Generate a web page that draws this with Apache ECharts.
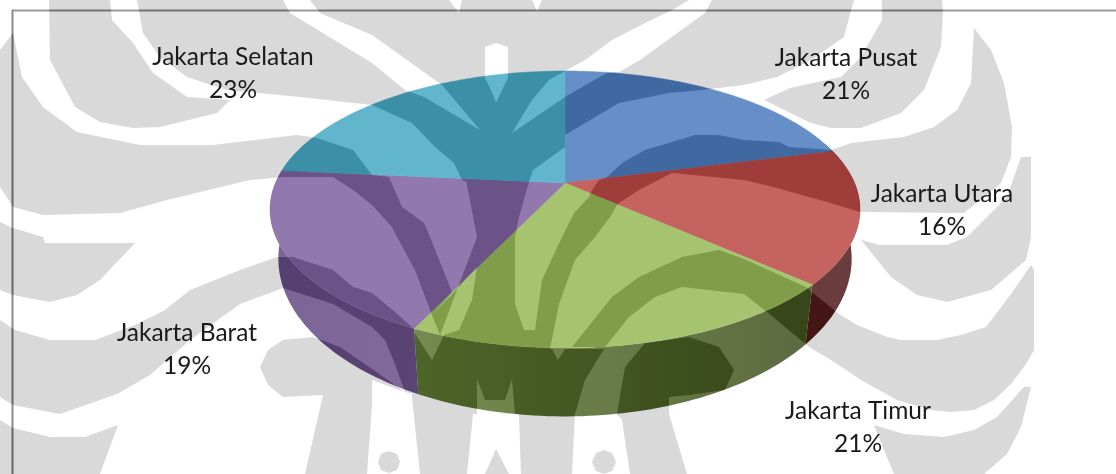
<!DOCTYPE html>
<html><head><meta charset="utf-8">
<style>html,body{margin:0;padding:0;background:#fff}#c{width:1116px;height:474px}</style>
<script src="https://cdn.jsdelivr.net/npm/echarts@6/dist/echarts.min.js"></script>
</head><body><div id="c"></div>
<script>
const categories = ['Jakarta Pusat','Jakarta Utara','Jakarta Timur','Jakarta Barat','Jakarta Selatan'];
const seriesValues = [21, 15.6, 20.5, 19.41, 23.49];
const percentLabels = ['21%','16%','21%','19%','23%'];

const topColors = ['#658fc6','#c4635f','#a6c36f','#9178ad','#61b5cd'];
const wallLeft  = ['#3f5f8a','#6a3c3c','#758a4e','#7a6596','#3f8a9d'];
const wallRight = ['#3f5f8a','#6a3c3c','#5c6b40','#7f6a9a','#3f8a9d'];
const labelCenters = [[233,57],[846,58],[942,194],[858,411],[187,333]];
const labelOrder = [1,2,3,4,0];

// Perspective projection of the pie disc onto the screen
const cx=565, cy=183, A=289.5, B=133.4, C=0.191;
function proj(t){const u=Math.sin(t),v=-Math.cos(t),d=1-C*v;return [cx+A*u/d, cy+B*v/d];}
function low(p){return [cx+(p[0]-cx)*0.972, 347+(p[1]-287)*1.14];}
const total=seriesValues.reduce((a,b)=>a+b,0);
function range(i){let s=0;for(let k=0;k<i;k++)s+=seriesValues[k];
  return [s/total*2*Math.PI,(s+seriesValues[i])/total*2*Math.PI];}
function arc(a,b){const n=Math.max(2,Math.ceil(Math.abs(b-a)/0.02)),o=[];
  for(let k=0;k<=n;k++)o.push(proj(a+(b-a)*k/n));return o;}

// Scanned-page watermark, subtracted from everything below it
const watermark=[
[[0,50],[13,33],[22,77],[43,107],[77,132],[140,145],[213,145],[297,135],[317,138],[353,150],[372,175],[389,177],[402,207],[424,223],[430,237],[452,292],[432,315],[415,270],[397,237],[392,227],[372,205],[353,190],[333,177],[283,177],[250,180],[167,200],[120,213],[43,215],[13,207],[0,187]],
[[49,0],[110,0],[112,20],[133,43],[153,73],[187,97],[230,100],[217,113],[160,127],[133,128],[100,122],[75,107],[50,60]],
[[137,0],[283,0],[290,13],[372,63],[405,90],[424,97],[480,130],[512,133],[565,97],[589,83],[607,73],[702,90],[669,93],[619,103],[565,135],[565,147],[533,170],[529,182],[466,182],[462,180],[454,163],[435,147],[412,123],[372,105],[300,97],[227,90],[187,77],[160,57],[143,33]],
[[310,0],[449,0],[459,13],[462,0],[496,0],[496,43],[485,47],[485,78],[491,90],[496,103],[496,135],[480,130],[442,85],[372,35],[320,13]],
[[496,0],[532,0],[537,11],[542,0],[689,0],[672,10],[645,23],[612,40],[585,60],[565,71],[549,80],[532,100],[512,133],[496,135],[496,103],[502,90],[508,78],[508,47],[496,43]],
[[466,180],[529,182],[519,217],[515,237],[515,304],[524,330],[535,330],[542,280],[562,237],[574,213],[589,197],[617,205],[610,217],[595,237],[575,260],[559,304],[550,349],[444,335],[459,330],[472,300],[477,267],[454,292],[432,315],[440,335],[477,237]],
[[444,335],[552,349],[558,360],[565,349],[604,349],[585,380],[575,414],[572,474],[521,474],[519,414],[515,414],[512,379],[505,400],[485,400],[477,379],[477,414],[473,414],[467,474],[420,474],[412,397],[414,332],[432,360]],
[[712,0],[854,0],[851,10],[844,37],[811,60],[777,77],[744,85],[702,90],[607,73],[619,72],[640,60],[705,13]],
[[882,0],[942,0],[943,12],[941,47],[924,90],[901,113],[861,128],[831,128],[811,123],[764,100],[790,88],[841,77],[861,57],[882,20]],
[[607,177],[622,163],[645,150],[695,135],[719,135],[744,140],[779,142],[789,147],[831,150],[851,143],[904,137],[934,127],[957,110],[971,83],[974,28],[991,50],[1004,83],[1012,127],[1011,157],[1001,183],[964,213],[860,212],[827,202],[777,188],[744,180],[672,173],[639,190],[619,203],[617,205],[589,197],[592,190],[599,180]],
[[572,347],[612,297],[639,277],[682,257],[719,250],[744,259],[806,287],[812,292],[839,314],[857,325],[887,337],[901,340],[937,340],[961,335],[986,327],[1011,294],[1031,265],[1034,270],[1034,350],[1024,367],[1011,384],[994,400],[974,410],[951,412],[931,410],[897,400],[861,380],[831,360],[809,347],[767,312],[744,294],[682,287],[655,297],[629,317],[605,347]],
[[861,240],[880,245],[947,245],[967,237],[1007,197],[1021,157],[1031,157],[1031,237],[1026,260],[991,290],[947,302],[917,295],[891,277]],
[[874,425],[904,434],[944,437],[974,430],[997,417],[1024,387],[1031,387],[1021,427],[1007,454],[984,474],[894,474],[884,450]],
[[0,222],[13,228],[43,237],[45,243],[135,243],[100,280],[77,295],[50,302],[13,295],[0,290]],
[[293,257],[333,270],[353,287],[372,293],[395,312],[414,329],[417,395],[405,392],[395,364],[385,340],[372,327],[333,304],[283,288],[240,304],[190,340],[150,375],[117,394],[60,414],[13,405],[0,397],[0,320],[15,330],[50,340],[95,340],[135,325],[165,310],[190,290],[240,270],[277,257]],
[[260,367],[268,350],[283,340],[313,337],[340,347],[372,369],[405,392],[372,380],[372,404],[367,474],[305,474],[323,395],[283,397],[268,385]],
[[0,420],[13,428],[50,437],[85,437],[118,425],[100,474],[0,474]],
[[617,414],[625,367],[645,343],[689,337],[719,347],[734,370],[725,390],[689,395],[669,397],[669,414],[687,474],[630,474],[622,420]],
[[496,449],[509,474],[485,474]],
[[389,451],[397,454],[400,462],[397,470],[389,473],[381,470],[378,462],[381,454]],
[[604,450],[612,453],[616,462],[612,471],[604,474],[596,471],[592,462],[596,453]]
];
function area(p){let s=0;for(let i=0;i<p.length;i++){const q=p[(i+1)%p.length];s+=p[i][0]*q[1]-q[0]*p[i][1];}return s;}
const wmPolys=watermark.map(p=>area(p)<0?p.slice().reverse():p);
echarts.graphic.registerShape('wmShape',echarts.graphic.extendShape({
  shape:{polys:[]},
  beforeBrush(){this.style.blend='difference';},
  buildPath(ctx,shape){shape.polys.forEach(p=>{ctx.moveTo(p[0][0],p[0][1]);
    for(let i=1;i<p.length;i++)ctx.lineTo(p[i][0],p[i][1]);ctx.closePath();});}
}));

function wallItem(params,api){
  const i=params.dataIndex,[a,b]=range(i);
  const lo=Math.max(a,Math.PI*0.4),hi=Math.min(b,Math.PI*1.6);
  if(hi<=lo)return {type:'group',children:[]};
  const t=arc(lo,hi),l=t.map(low).reverse();
  return {type:'polygon',shape:{points:t.concat(l)},silent:true,style:{
    fill:new echarts.graphic.LinearGradient(i===2?414:270,0,i===2?810:420,0,
      [{offset:0,color:wallLeft[i]},{offset:1,color:wallRight[i]}],true),
    lineWidth:0}};
}
function topItem(params,api){
  const i=params.dataIndex,[a,b]=range(i);
  return {type:'polygon',shape:{points:[[cx,cy]].concat(arc(a,b))},silent:true,
    style:{fill:topColors[i],stroke:topColors[i],lineWidth:0.5}};
}
function wmItem(){
  return {type:'wmShape',shape:{polys:wmPolys},silent:true,style:{fill:'#262626'}};
}
function labelItem(params,api){
  const i=params.dataIndex,c=labelCenters[labelOrder[i]],font='24.5px Lato';
  const common={textAlign:'center',textVerticalAlign:'middle',fill:'#1a1a1a',font};
  return {type:'group',silent:true,children:[
    {type:'text',x:c[0],y:c[1],style:Object.assign({text:categories[i]},common)},
    {type:'text',x:c[0],y:c[1]+33,style:Object.assign({text:percentLabels[i]},common)}
  ]};
}
const rows=seriesValues.map(v=>[v]);
const chart=echarts.init(document.getElementById('c'),null,{renderer:'canvas',width:1116,height:474});
chart.setOption({
  animation:false,
  backgroundColor:'#fff',
  graphic:[
    {type:'line',z:1,silent:true,shape:{x1:12,y1:10.5,x2:1116,y2:10.5},style:{stroke:'#9a9a9a',lineWidth:2}},
    {type:'line',z:1,silent:true,shape:{x1:12.5,y1:10,x2:12.5,y2:474},style:{stroke:'#8c8c8c',lineWidth:2}}
  ],
  series:[
    {type:'custom',coordinateSystem:'none',z:2,data:rows,renderItem:wallItem},
    {type:'custom',coordinateSystem:'none',z:3,data:rows,renderItem:topItem},
    {type:'custom',coordinateSystem:'none',z:4,data:[[1]],renderItem:wmItem},
    {type:'custom',coordinateSystem:'none',z:5,data:rows,renderItem:labelItem}
  ]
});
</script></body></html>
